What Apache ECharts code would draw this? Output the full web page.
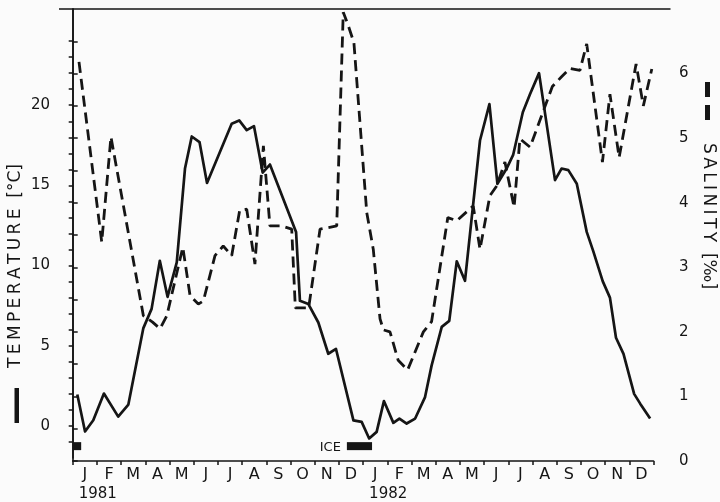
<!DOCTYPE html>
<html>
<head>
<meta charset="utf-8">
<script src="https://cdn.jsdelivr.net/npm/echarts@6.0.0/dist/echarts.min.js"></script>
<style>
html, body { margin: 0; padding: 0; background: #fbfbfb; }
#chart { width: 720px; height: 502px; }
</style>
</head>
<body>
<div id="chart"></div>
<script>
// months on the bottom axis, one year after the other
var monthLabels = ['J', 'F', 'M', 'A', 'M', 'J', 'J', 'A', 'S', 'O', 'N', 'D'];
var yearLabels = ['1981', '1982'];

// temperature [°C], x in months since 1 Jan 1981
var tempMonth = [0.19, 0.51, 0.85, 1.29, 1.88, 2.3, 2.92, 3.26, 3.6, 3.92, 4.3, 4.64, 4.92, 5.24, 5.55,
    6.57, 6.88, 7.19, 7.49, 7.85, 8.15, 9.23, 9.39, 9.74, 10.15, 10.56, 10.88, 11.6, 11.94,
    12.25, 12.56, 12.86, 13.25, 13.5, 13.8, 14.15, 14.56, 14.83, 15.25, 15.56, 15.87, 16.21,
    16.83, 17.22, 17.55, 17.93, 18.2, 18.6, 18.9, 19.27, 19.93, 20.2, 20.48, 20.83, 21.24,
    21.51, 21.9, 22.2, 22.45, 22.76, 23.2, 23.45, 23.86];
var tempValue = [1.96, -0.35, 0.35, 2.02, 0.58, 1.33, 6.1, 7.3, 10.3, 8.05, 10.2, 16.05, 18.05, 17.7, 15.15,
    18.85, 19.05, 18.45, 18.7, 15.8, 16.3, 12.1, 7.8, 7.6, 6.45, 4.5, 4.8, 0.35, 0.25,
    -0.78, -0.37, 1.55, 0.19, 0.46, 0.15, 0.46, 1.8, 3.76, 6.18, 6.55, 10.27, 9.05,
    17.8, 20.07, 15.1, 16.05, 16.9, 19.56, 20.7, 22.0, 15.33, 16.05, 15.95, 15.1, 12.1,
    10.9, 9.03, 8.0, 5.5, 4.49, 2.0, 1.39, 0.46];

// salinity [‰]
var salMonth = [0.26, 1.2, 1.58, 2.92, 3.3, 3.61, 3.89, 4.55, 4.85, 5.19, 5.4, 5.88, 6.22, 6.57, 6.9,
    7.19, 7.53, 7.88, 8.15, 8.64, 9.05, 9.2, 9.75, 10.22, 10.91, 11.18, 11.39, 11.62, 12.15,
    12.42, 12.7, 12.84, 13.11, 13.45, 13.84, 14.49, 14.83, 15.5, 15.87, 16.55, 16.83, 17.24,
    17.52, 17.86, 18.24, 18.48, 18.9, 19.82, 20.2, 20.55, 20.96, 21.24, 21.89, 22.2, 22.58,
    23.28, 23.58, 23.93];
var salValue = [6.18, 3.39, 5.02, 2.25, 2.15, 2.05, 2.25, 3.31, 2.56, 2.43, 2.48, 3.18, 3.33, 3.18, 3.88,
    3.9, 3.05, 4.88, 3.64, 3.64, 3.59, 2.37, 2.37, 3.59, 3.64, 6.95, 6.74, 6.48, 3.85,
    3.28, 2.2, 2.03, 2.0, 1.56, 1.41, 2.0, 2.16, 3.77, 3.72, 3.95, 3.28, 4.11,
    4.26, 4.63, 3.93, 4.99, 4.86, 5.8, 5.95, 6.08, 6.05, 6.46, 4.63, 5.68, 4.7,
    6.15, 5.5, 6.07];

// ice cover periods (months)
var iceStart = [0, 11.33];
var iceEnd = [0.35, 12.37];
var iceText = ['', 'ICE'];

var tempLabels = [0, 5, 10, 15, 20];
var salLabels = [0, 1, 2, 3, 4, 5, 6];

var ink = '#151515';
var font = 'DejaVu Sans';

function pairs(xs, ys) {
    var out = [];
    for (var i = 0; i < xs.length; i++) out.push([xs[i], ys[i]]);
    return out;
}
function spaced(s) {
    return s.split('').join('\u2009');
}

var tempTicks = [];
for (var t = -1; t <= 24; t++) tempTicks.push(t);
var salTicks = [];
for (var s = 0; s <= 6.5; s += 0.5) salTicks.push(s);

var cats = monthLabels.concat(monthLabels);
var iceData = [];
for (var k = 0; k < iceStart.length; k++) iceData.push([iceStart[k], iceEnd[k], k]);

var chart = echarts.init(document.getElementById('chart'));
chart.setOption({
    animation: false,
    backgroundColor: '#fbfbfb',
    grid: [
        { left: 72.7, right: 66.5, top: 9, bottom: 41, outerBoundsMode: 'none' },
        { left: 72.7, right: 66.5, top: 9, bottom: 44, outerBoundsMode: 'none' }
    ],
    xAxis: [{
        type: 'category', gridIndex: 0, position: 'bottom', data: cats, boundaryGap: true,
        axisLine: { lineStyle: { color: ink, width: 1.6 } },
        axisTick: { show: true, inside: false, length: 4, interval: 0, lineStyle: { color: ink, width: 1.5 } },
        axisLabel: { interval: 0, color: ink, fontFamily: font, fontSize: 16, margin: 6 },
        splitLine: { show: false }
    }, {
        type: 'value', gridIndex: 0, position: 'bottom', min: 0, max: 24, show: false
    }, {
        type: 'category', gridIndex: 0, position: 'bottom', data: cats, boundaryGap: true,
        axisLine: { show: false }, axisTick: { show: false },
        axisLabel: {
            interval: 0, color: ink, fontFamily: font, fontSize: 15, margin: 26,
            formatter: function (v, i) {
                return i % 12 === 0 ? '{y|' + yearLabels[i / 12] + '}' : '';
            },
            rich: { y: { fontFamily: font, fontSize: 15, color: ink, padding: [0, 0, 0, 26] } }
        },
        splitLine: { show: false }
    }, {
        type: 'value', gridIndex: 1, position: 'bottom', min: 0, max: 24, show: false
    }],
    yAxis: [{
        type: 'value', gridIndex: 0, position: 'right', offset: 16.5, min: 0, max: 7,
        axisLine: { show: true, lineStyle: { color: ink, width: 1.6 } },
        axisTick: { show: true, length: 5, customValues: salTicks, lineStyle: { color: ink, width: 1.5 } },
        axisLabel: { customValues: salLabels, color: ink, fontFamily: font, fontSize: 15, margin: 9 },
        splitLine: { show: false }
    }, {
        type: 'value', gridIndex: 1, position: 'left', offset: 13.7, min: -2, max: 26,
        axisLine: { show: true, lineStyle: { color: ink, width: 1.6 } },
        axisTick: { show: true, length: 4, customValues: tempTicks, lineStyle: { color: ink, width: 1.5 } },
        axisLabel: { customValues: tempLabels, color: ink, fontFamily: font, fontSize: 15, margin: 9 },
        splitLine: { show: false }
    }],
    series: [{
        name: 'temperature', type: 'line', xAxisIndex: 3, yAxisIndex: 1,
        data: pairs(tempMonth, tempValue), symbol: 'none',
        lineStyle: { color: ink, width: 2.7, join: 'round' }
    }, {
        name: 'salinity', type: 'line', xAxisIndex: 1, yAxisIndex: 0,
        data: pairs(salMonth, salValue), symbol: 'none',
        lineStyle: { color: ink, width: 2.8, type: [11, 6] }
    }, {
        name: 'ice', type: 'custom', xAxisIndex: 3, yAxisIndex: 1, data: iceData,
        renderItem: function (params, api) {
            var a = api.coord([api.value(0), -1.26]);
            var b = api.coord([api.value(1), -1.26]);
            var children = [{
                type: 'rect',
                shape: { x: a[0], y: a[1] - 4, width: b[0] - a[0], height: 8 },
                style: { fill: ink }
            }];
            var txt = iceText[api.value(2)];
            if (txt) {
                children.push({
                    type: 'text',
                    style: { text: txt, x: a[0] - 6, y: a[1] + 1, align: 'right', verticalAlign: 'middle',
                        textAlign: 'right', textVerticalAlign: 'middle',
                        font: '13px ' + font, fill: ink }
                });
            }
            return { type: 'group', children: children };
        }
    }],
    graphic: [{
        type: 'line', shape: { x1: 59, y1: 9, x2: 670.5, y2: 9 },
        style: { stroke: ink, lineWidth: 1.6 }
    }, {
        type: 'rect', shape: { x: 14.5, y: 388, width: 4.5, height: 35 }, style: { fill: ink }
    }, {
        type: 'text', x: 16, y: 266, rotation: Math.PI / 2,
        style: { text: spaced('TEMPERATURE') + '  [°C]', font: '17px ' + font, fill: ink,
            align: 'center', verticalAlign: 'middle', textAlign: 'center', textVerticalAlign: 'middle' }
    }, {
        type: 'rect', shape: { x: 705, y: 82, width: 5, height: 15 }, style: { fill: ink }
    }, {
        type: 'rect', shape: { x: 705, y: 105, width: 5, height: 15 }, style: { fill: ink }
    }, {
        type: 'text', x: 708, y: 216, rotation: -Math.PI / 2,
        style: { text: spaced('SALINITY') + '  [‰]', font: '17px ' + font, fill: ink,
            align: 'center', verticalAlign: 'middle', textAlign: 'center', textVerticalAlign: 'middle' }
    }]
});
</script>
</body>
</html>
